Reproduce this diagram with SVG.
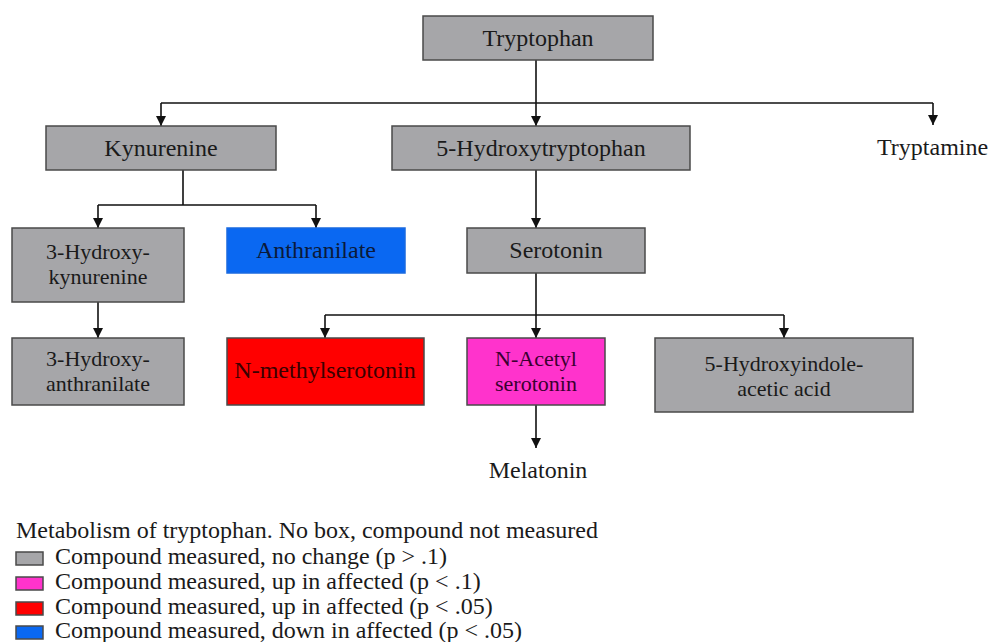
<svg xmlns="http://www.w3.org/2000/svg" width="989" height="642" viewBox="0 0 989 642">
<defs>
<marker id="ah" markerUnits="userSpaceOnUse" markerWidth="10" markerHeight="10" viewBox="0 0 10 10" refX="10" refY="5" orient="auto">
<path d="M0,0 L10,5 L0,10 z" fill="#111"/>
</marker>
<style>
text{font-family:"Liberation Serif","Times New Roman",serif;font-size:24px;fill:#1a1a1a}
.c{text-anchor:middle}
.t2{font-size:22px}
.box{stroke:#4a4a4a;stroke-width:1.5}
.grey{fill:#a6a6a9}
.red{fill:#ff0000}
.mag{fill:#ff33cc}
.blue{fill:#0a68f2}
.line{stroke:#111;stroke-width:1.6;fill:none}
.arr{marker-end:url(#ah)}
</style>
</defs>
<rect width="989" height="642" fill="#ffffff"/>
<g id="connectors">
<path class="line arr" d="M536,60 V126"/>
<path class="line" d="M161,103 H933"/>
<path class="line arr" d="M161,103 V126"/>
<path class="line arr" d="M933,103 V125"/>
<path class="line" d="M183,170 V205 M98,205 H316"/>
<path class="line arr" d="M98,205 V228"/>
<path class="line arr" d="M316,205 V228"/>
<path class="line arr" d="M98,302 V338"/>
<path class="line arr" d="M536,170 V228"/>
<path class="line arr" d="M536,273 V338"/>
<path class="line" d="M325,315 H784"/>
<path class="line arr" d="M325,315 V338"/>
<path class="line arr" d="M784,315 V338"/>
<path class="line arr" d="M536,405 V448"/>
</g>
<g id="tryptophan"><rect class="box grey" x="423" y="16" width="230" height="44"/><text class="c" x="538" y="46">Tryptophan</text></g>
<g id="kynurenine"><rect class="box grey" x="46" y="126" width="230" height="44"/><text class="c" x="161" y="156">Kynurenine</text></g>
<g id="hydroxytryptophan"><rect class="box grey" x="392" y="126" width="298" height="44"/><text class="c" x="541" y="156">5-Hydroxytryptophan</text></g>
<g id="tryptamine"><text x="877" y="155">Tryptamine</text></g>
<g id="hydroxykynurenine"><rect class="box grey" x="12" y="228" width="172" height="74"/><text class="c t2" x="98" y="259">3-Hydroxy-</text><text class="c t2" x="98" y="284">kynurenine</text></g>
<g id="anthranilate"><rect class="box blue" x="227" y="228" width="178" height="45" style="stroke:#1a6ae0"/><text class="c" x="316" y="258" style="fill:#0b1a3a">Anthranilate</text></g>
<g id="serotonin"><rect class="box grey" x="467" y="228" width="178" height="45"/><text class="c" x="556" y="258">Serotonin</text></g>
<g id="hydroxyanthranilate"><rect class="box grey" x="12" y="338" width="172" height="67"/><text class="c t2" x="98" y="366">3-Hydroxy-</text><text class="c t2" x="98" y="391">anthranilate</text></g>
<g id="nmethylserotonin"><rect class="box red" x="227" y="338" width="197" height="67"/><text class="c" x="325" y="378" style="fill:#3a0000">N-methylserotonin</text></g>
<g id="nacetylserotonin"><rect class="box mag" x="467" y="338" width="138" height="67"/><text class="c t2" x="536" y="366" style="fill:#3a0030">N-Acetyl</text><text class="c t2" x="536" y="391" style="fill:#3a0030">serotonin</text></g>
<g id="hiaa"><rect class="box grey" x="655" y="338" width="258" height="74"/><text class="c t2" x="784" y="371">5-Hydroxyindole-</text><text class="c t2" x="784" y="396">acetic acid</text></g>
<g id="melatonin"><text class="c" x="538" y="478">Melatonin</text></g>
<g id="legend">
<text x="16" y="538">Metabolism of tryptophan. No box, compound not measured</text>
<rect class="box grey" x="16" y="552" width="27" height="13"/>
<text x="55" y="564">Compound measured, no change (p &gt; .1)</text>
<rect class="box mag" x="16" y="577" width="27" height="13"/>
<text x="55" y="589">Compound measured, up in affected (p &lt; .1)</text>
<rect class="box red" x="16" y="602" width="27" height="13"/>
<text x="55" y="614">Compound measured, up in affected (p &lt; .05)</text>
<rect class="box blue" x="16" y="626" width="27" height="13"/>
<text x="55" y="638">Compound measured, down in affected (p &lt; .05)</text>
</g>
</svg>
